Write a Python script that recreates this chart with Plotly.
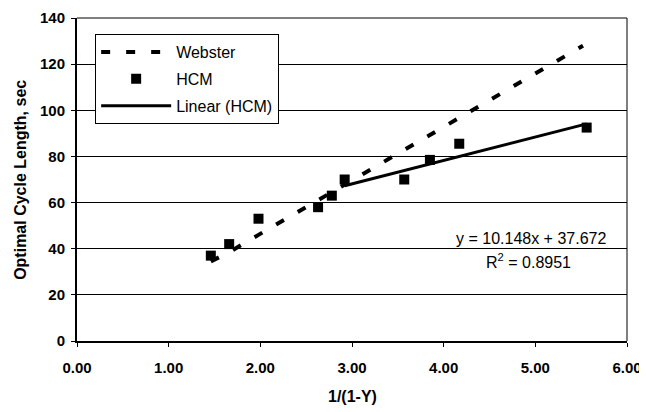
import plotly.graph_objects as go

# HCM observed points
hcm_x = [1.46, 1.66, 1.98, 2.63, 2.78, 2.92, 3.57, 3.85, 4.17, 5.56]
hcm_y = [37, 42, 53, 58, 63, 70, 70, 78.5, 85.5, 92.5]

# Webster curve
web_x = [1.46, 1.66, 1.98, 2.63, 2.78, 2.92, 3.57, 3.85, 4.17, 5.52]
web_y = [34.5, 38.5, 46, 61, 64.5, 67.5, 83, 89, 96.5, 128]

# Linear trendline (HCM): y = slope*x + intercept, drawn over this x range
trend_slope = 10.148
trend_intercept = 37.672
trend_x = [2.92, 5.56]
trend_y = [trend_slope * v + trend_intercept for v in trend_x]

x_ticks = [0, 1, 2, 3, 4, 5, 6]
x_tick_labels = ["0.00", "1.00", "2.00", "3.00", "4.00", "5.00", "6.00"]
y_ticks = [0, 20, 40, 60, 80, 100, 120, 140]

FONT = "Liberation Sans, Arial, sans-serif"

fig = go.Figure()
fig.add_trace(go.Scatter(
    x=web_x, y=web_y, mode="lines", name="Webster", legendgroup="a",
    line=dict(color="black", width=4, dash="9px,16px"),
))
fig.add_trace(go.Scatter(
    x=hcm_x, y=hcm_y, mode="markers", name="HCM", legendgroup="b",
    marker=dict(symbol="square", size=10, color="black"),
))
fig.add_trace(go.Scatter(
    x=trend_x, y=trend_y, mode="lines", name="Linear (HCM)", legendgroup="c",
    line=dict(color="black", width=3),
))

fig.add_annotation(
    x=5.79, y=44.6, xref="x", yref="y", xanchor="right", yanchor="middle",
    text="y = 10.148x + 37.672", showarrow=False,
    font=dict(family=FONT, size=16, color="black"),
)
fig.add_annotation(
    x=4.92, y=34.8, xref="x", yref="y", xanchor="center", yanchor="middle",
    text="R<sup>2</sup> = 0.8951", showarrow=False,
    font=dict(family=FONT, size=16, color="black"),
)
# axis titles
fig.add_annotation(
    x=-0.103, y=0.5, xref="paper", yref="paper", xanchor="center", yanchor="middle",
    text="<b>Optimal Cycle Length, sec</b>", textangle=-90, showarrow=False,
    font=dict(family=FONT, size=16, color="black"),
)
fig.add_annotation(
    x=0.5, y=-0.173, xref="paper", yref="paper", xanchor="center", yanchor="middle",
    text="<b>1/(1-Y)</b>", showarrow=False,
    font=dict(family=FONT, size=16, color="black"),
)

# page body has an 8px margin, so the figure is sized to fill the rest of the window
fig.update_layout(
    width=639, height=404,
    margin=dict(l=69, r=20, t=10, b=71),
    paper_bgcolor="white", plot_bgcolor="white",
    font=dict(family=FONT, size=15, color="black"),
    showlegend=True,
    legend=dict(
        x=0.033, y=0.950, xanchor="left", yanchor="top",
        bgcolor="white", bordercolor="black", borderwidth=1,
        font=dict(family=FONT, size=16, color="black"),
        itemwidth=70, traceorder="grouped", tracegroupgap=3,
    ),
    xaxis=dict(
        range=[0, 6], tickvals=x_ticks, ticktext=x_tick_labels,
        showgrid=False, zeroline=False, automargin=False,
        showline=True, linecolor="black", linewidth=2,
        ticks="outside", ticklen=4, tickcolor="black",
        ticklabelstandoff=8, ticklabeloverflow="allow",
        tickfont=dict(family=FONT, size=15, color="black", weight="bold"),
    ),
    yaxis=dict(
        range=[0, 140], tickvals=y_ticks, automargin=False,
        showgrid=True, gridcolor="black", gridwidth=1, zeroline=False,
        showline=True, linecolor="black", linewidth=2,
        ticks="outside", ticklen=4, tickcolor="black",
        ticklabelstandoff=3, ticklabeloverflow="allow",
        tickfont=dict(family=FONT, size=15, color="black", weight="bold"),
    ),
)

# top and right-hand plot border
fig.add_shape(type="line", xref="paper", yref="paper", x0=1, x1=1, y0=0, y1=1,
              line=dict(color="black", width=1))
fig.add_shape(type="line", xref="paper", yref="paper", x0=0, x1=1, y0=1, y1=1,
              line=dict(color="black", width=1))

fig.write_html("out.html")
